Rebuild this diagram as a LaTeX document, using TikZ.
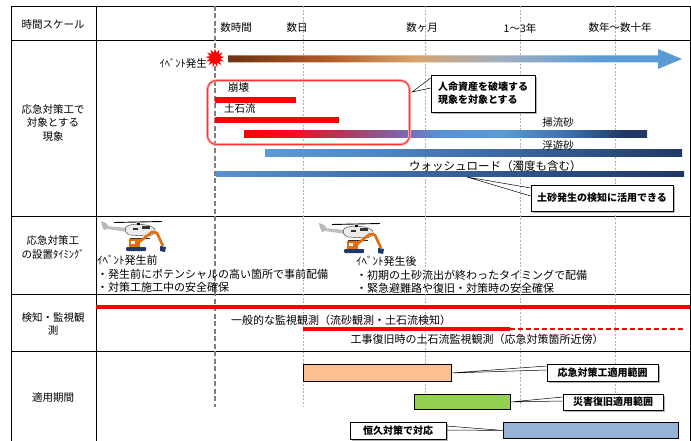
\documentclass[tikz,border=0pt]{standalone}
\usepackage{fontspec}
\setmainfont{Noto Sans CJK JP}
\usetikzlibrary{shapes.geometric,shadows}

% colours
\definecolor{brdark}{HTML}{6B3214}
\definecolor{brmid}{HTML}{B25C28}
\definecolor{brtan}{HTML}{D6A36E}
\definecolor{greyblue}{HTML}{A2AEC0}
\definecolor{skyblue}{HTML}{5B9BD5}
\definecolor{navy}{HTML}{1F3864}
\definecolor{redA}{HTML}{F0102A}
\definecolor{mauve}{HTML}{B03A60}
\definecolor{violetB}{HTML}{7A6AB0}
\definecolor{blueA}{HTML}{5A90D5}
\definecolor{blueB}{HTML}{3A6AA8}
\definecolor{blueC}{HTML}{5088C8}
\definecolor{blueD}{HTML}{3A65A0}
\definecolor{blueE}{HTML}{5A92D2}
\definecolor{blueF}{HTML}{4472B0}
\definecolor{blueG}{HTML}{2F5890}
\definecolor{peach}{HTML}{FAC090}
\definecolor{leaf}{HTML}{92D050}
\definecolor{pale}{HTML}{95B3D7}
\definecolor{digger}{HTML}{E46C0A}
\definecolor{track}{HTML}{1F3A6A}
\definecolor{nowgrey}{HTML}{7F7F7F}

% gradients (the 25bp..75bp band spans the shaded path)
\pgfdeclarehorizontalshading{timearrow}{100bp}{color(0bp)=(brdark); color(25bp)=(brdark); color(36bp)=(brmid); color(45.5bp)=(brtan); color(55bp)=(greyblue); color(66bp)=(skyblue); color(100bp)=(skyblue)}
\pgfdeclarehorizontalshading{bedload}{100bp}{color(0bp)=(red); color(25bp)=(red); color(32bp)=(redA); color(38bp)=(mauve); color(45bp)=(violetB); color(49bp)=(blueA); color(57bp)=(skyblue); color(66bp)=(blueB); color(72bp)=(navy); color(100bp)=(navy)}
\pgfdeclarehorizontalshading{suspload}{100bp}{color(0bp)=(skyblue); color(25bp)=(skyblue); color(37.5bp)=(blueC); color(55bp)=(blueD); color(75bp)=(navy); color(100bp)=(navy)}
\pgfdeclarehorizontalshading{washload}{100bp}{color(0bp)=(blueE); color(25bp)=(blueE); color(40bp)=(blueF); color(55bp)=(blueG); color(75bp)=(navy); color(100bp)=(navy)}

\tikzset{
  rescue/.pic={
    % helicopter
    \fill[gray!55] (1,1) -- (6,3) -- (10,8) -- (4,10) -- (2,6) -- cycle;
    \fill[gray!50] (6,6) -- (28,8) -- (28,12) -- (7,9) -- cycle;
    \filldraw[fill=gray!15, draw=gray!40!black, line width=0.4pt]
      (26,7) .. controls (30,3) and (46,3) .. (54,8)
      .. controls (57,11) and (55,15) .. (48,16) -- (30,15)
      .. controls (26,14) and (24,10) .. (26,7) -- cycle;
    \fill[black!80] (42,6) rectangle (50,9);
    \fill[black!80] (33,8) rectangle (38,10);
    \draw[black, line width=0.9pt] (14,2.5) -- (62,1.5);
    \fill[black] (37,2.5) rectangle (40,5);
    \draw[gray!40!black, line width=0.5pt] (30,18) -- (50,18);
    % excavator
    \fill[digger] (29,19) rectangle (40,27);
    \fill[white] (31,20.5) rectangle (35,24);
    \draw[digger, line width=2.6pt, line join=round] (38,23) -- (52,12) -- (57,13) -- (63,26);
    \fill[track, rounded corners=1pt] (26,27) rectangle (46,31);
    \fill[track] (60,26) -- (66,27) -- (65,32) -- (60,31) -- cycle;
  }
}

\begin{document}
\begin{tikzpicture}[x=1pt,y=-1pt,
  tableline/.style={black, line width=0.9pt},
  nowline/.style={nowgrey, line width=1.8pt, dash pattern=on 5pt off 2.5pt},
  scaleline/.style={gray!60, line width=0.6pt, dash pattern=on 2pt off 1.6pt},
  lbl/.style={font=\fontsize{10.5}{13.5}\selectfont, inner sep=0pt},
  body/.style={font=\fontsize{11}{13.5}\selectfont, inner sep=0pt},
  rowhead/.style={lbl, align=center},
  notebox/.style={draw=black, fill=white, line width=0.6pt, inner sep=0pt,
    font=\bfseries\fontsize{10}{13}\selectfont, align=left,
    drop shadow={shadow xshift=1.8pt, shadow yshift=-1.8pt, fill=gray!60, opacity=1}},
  pointer/.style={black, line width=0.5pt},
  rangebox/.style={draw=black, line width=0.9pt, inner sep=0pt, anchor=north west},
  redbar/.style={fill=red, inner sep=0pt, anchor=north west},
]
\useasboundingbox (0,0) rectangle (691,441);

% table frame
\draw[tableline] (11,441) -- (11,6) -- (690,6) -- (690,441);
\draw[tableline] (96,6) -- (96,441);
\foreach \yy in {40,216,294,351} \draw[tableline] (11,\yy) -- (690,\yy);

% time-scale guides
\draw[nowline] (215,6) -- (215,407);
\foreach \xx in {303,425,520,615} \draw[scaleline] (\xx,6) -- (\xx,407);

% header
\node[lbl] (hdr) at (53,25) {時間スケール};
\node[lbl] (t1) at (236,28) {数時間};
\node[lbl] (t2) at (297,28) {数日};
\node[lbl] (t3) at (422,28) {数ヶ月};
\node[lbl] (t4) at (520,28) {1～3年};
\node[lbl] (t5) at (620,28) {数年～数十年};

% row labels
\node[rowhead] (r1) at (53,123) {応急対策工で\\対象とする\\現象};
\node[rowhead] (r2) at (53,247.5) {応急対策工\\の設置ﾀｲﾐﾝｸﾞ};
\node[rowhead] (r3) at (53,324) {検知・監視観\\測};
\node[rowhead] (r4) at (53,398) {適用期間};

% phenomena
\shade[shading=timearrow] (228,55.5) -- (658,55.5) -- (658,49) -- (682,59) -- (658,69) -- (658,62.5) -- (228,62.5) -- cycle;
\node[star, star points=13, star point ratio=1.8, fill=red, minimum size=19pt, inner sep=0pt] (burst) at (215,58) {};
\node[lbl, anchor=east] (evt) at (207,63) {ｲﾍﾞﾝﾄ発生};

\node[redbar, minimum width=81pt, minimum height=6pt] (collapse) at (215,96.5) {};
\node[lbl, anchor=west] (collapsetxt) at (228,88) {崩壊};
\node[redbar, minimum width=124pt, minimum height=6pt] (debris) at (215,117) {};
\node[lbl, anchor=west] (debristxt) at (224,109) {土石流};
\node[shading=bedload, inner sep=0pt, anchor=north west, minimum width=403pt, minimum height=7pt] (bed) at (244,130.5) {};
\node[lbl] (bedtxt) at (558,123) {掃流砂};
\node[shading=suspload, inner sep=0pt, anchor=north west, minimum width=417pt, minimum height=7pt] (susp) at (265,149.5) {};
\node[lbl] (susptxt) at (558,145) {浮遊砂};
\node[shading=washload, inner sep=0pt, anchor=north west, minimum width=468pt, minimum height=5pt] (wash) at (216,171.5) {};
\node[inner sep=0pt, font=\fontsize{11.5}{13.5}\selectfont, anchor=west] (washtxt) at (409,166) {ウォッシュロード（濁度も含む）};

\node[draw=red!80, line width=1pt, preaction={draw=red!30, line width=2.8pt},
  rounded corners=9pt, inner sep=0pt, anchor=north west,
  minimum width=202pt, minimum height=64pt] (target) at (207,80) {};

\coordinate (tipA) at (412,92);
\node[notebox, minimum width=104pt, minimum height=37pt] (c1) at (483,93.5) {人命資産を破壊する\\現象を対象とする};
\draw[pointer] ([yshift=15.5pt]c1.west) -- (tipA) -- ([yshift=5.5pt]c1.west);

\coordinate (tipB) at (467,177);
\node[notebox, minimum width=142pt, minimum height=26pt] (c2) at (602,198) {土砂発生の検知に活用できる};
\draw[pointer] ([yshift=10pt]c2.west) -- (tipB) -- ([yshift=2pt]c2.west);

% installation timing
\pic at (100,220) {rescue};
\pic at (318,222) {rescue};
\node[body, anchor=west, align=left] (before) at (97,274)
  {ｲﾍﾞﾝﾄ発生前\\・発生前にポテンシャルの高い箇所で事前配備\\・対策工施工中の安全確保};
\node[body, anchor=west, align=left] (after) at (356,275)
  {ｲﾍﾞﾝﾄ発生後\\・初期の土砂流出が終わったタイミングで配備\\・緊急避難路や復旧・対策時の安全確保};

% monitoring
\draw[red, line width=4.2pt] (96,307) -- (690,307);
\node[body] (general) at (341,320) {一般的な監視観測（流砂観測・土石流検知）};
\draw[red, line width=3.2pt] (303,329) -- (510,329);
\draw[red, line width=1.6pt, dash pattern=on 5pt off 3pt] (510,329) -- (685,329);
\node[body] (local) at (477,339) {工事復旧時の土石流監視観測（応急対策箇所近傍）};

% application periods
\node[rangebox, fill=peach, minimum width=148pt, minimum height=17pt] (emg) at (303,364) {};
\node[rangebox, fill=leaf, minimum width=96pt, minimum height=15pt] (rest) at (414,394) {};
\node[rangebox, fill=pale, minimum width=175pt, minimum height=16pt] (perm) at (503,422) {};

\node[notebox, minimum width=111pt, minimum height=17pt] (c3) at (602.5,372.5) {応急対策工適用範囲};
\draw[pointer] ([yshift=6.5pt]c3.west) -- (emg.east) -- ([yshift=2.5pt]c3.west);
\node[notebox, minimum width=100pt, minimum height=16pt] (c4) at (613,402) {災害復旧適用範囲};
\draw[pointer] ([yshift=5pt]c4.west) -- (rest.east) -- ([yshift=1pt]c4.west);
\node[notebox, minimum width=96pt, minimum height=17pt] (c5) at (398,430.5) {恒久対策で対応};
\draw[pointer] ([yshift=4.5pt]c5.east) -- (perm.west) -- ([yshift=0.5pt]c5.east);
\end{tikzpicture}
\end{document}
